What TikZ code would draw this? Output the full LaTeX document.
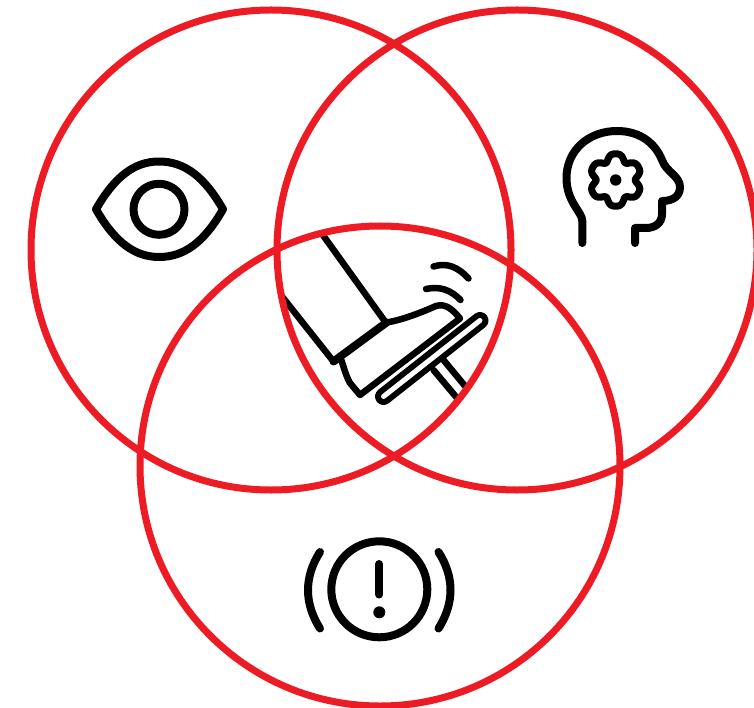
\documentclass[tikz,border=0pt]{standalone}
\definecolor{vennred}{HTML}{ED1C24}
\tikzset{
  ring/.style={draw=vennred,line width=7pt},
  icon/.style={draw=black,line width=8pt,line cap=round,line join=round},
  legline/.style={draw=black,line width=6.5pt,line cap=round,line join=round},
}
\begin{document}
\begin{tikzpicture}[x=1pt,y=-1pt]
\useasboundingbox (0,0) rectangle (754,708);
% eye
\draw[icon] (96,209.3) .. controls (115,176) and (135,161.5) .. (159,161.5) .. controls (184,161.5) and (204,176) .. (223,209.3) .. controls (204,242.5) and (184,257) .. (159,257) .. controls (135,257) and (115,242.5) .. (96,209.3) -- cycle;
\draw[icon] (159,209.3) circle (25.5);
% head
\draw[icon] (582.3,243) -- (582.3,221) .. controls (582.3,212) and (566.5,202) .. (566.5,178) .. controls (566.5,150) and (589,131) .. (617,131) .. controls (640,131) and (655,143) .. (662,160) .. controls (666,172) and (680,176) .. (680,187) .. controls (680,197) and (672,201) .. (662,201) -- (662,214) .. controls (662,223) and (655,228) .. (646,228) -- (635,228) -- (635,243);
\draw[icon,line width=7pt] plot[smooth cycle,samples=72,domain=0:355,variable=\t] ({615.7+(23.6+3.4*cos(6*(\t-30))-0.8*cos(12*(\t-30)))*cos(\t)},{180+(23.6+3.4*cos(6*(\t-30))-0.8*cos(12*(\t-30)))*sin(\t)});
\fill (615.7,180) circle (5.7);
% alert
\draw[icon] (379.3,589.3) circle (48);
\draw[icon] (379.3,564) -- (379.3,594.5);
\fill (379.3,612.3) circle (6);
\draw[icon] (320,552) .. controls (304,577) and (304,603) .. (320,628.5);
\draw[icon] (438.5,552) .. controls (454.5,577) and (454.5,603) .. (438.5,628.5);
% pedal, seen only inside the common region of the three circles
\begin{scope}
\clip (271,250) circle (240);
\clip (517,250) circle (240);
\clip (380,466) circle (240);
\draw[legline] (320,231) -- (385,321.5);
\draw[legline] (280,294) -- (333.5,361.5);
\draw[icon] (333.5,361.5) -- (386.5,322.5);
\draw[legline] (386.5,322.5) .. controls (402,320) and (420,313) .. (436,306) .. controls (446,303) and (453,310) .. (460,318.5) -- (360,395) -- (350,383) .. controls (346,376) and (344,368) .. (341.5,360.5);
\draw[legline] (433.5,370) -- (462,404);
\draw[legline] (443.5,360) -- (470,392);
\draw[line width=17pt,line cap=round,draw=black] (383.5,396.5) -- (480,320.5);
\draw[line width=5pt,line cap=round,draw=white] (383.5,396.5) -- (480,320.5);
\draw[legline] (433.5,266.5) .. controls (448,262) and (459,268) .. (468.5,278.5);
\draw[legline] (426,289) .. controls (440,286) and (451,290) .. (460.5,300);
\end{scope}
% circles
\draw[ring] (271,250) circle (240);
\draw[ring] (517,250) circle (240);
\draw[ring] (380,466) circle (240);
\end{tikzpicture}
\end{document}
